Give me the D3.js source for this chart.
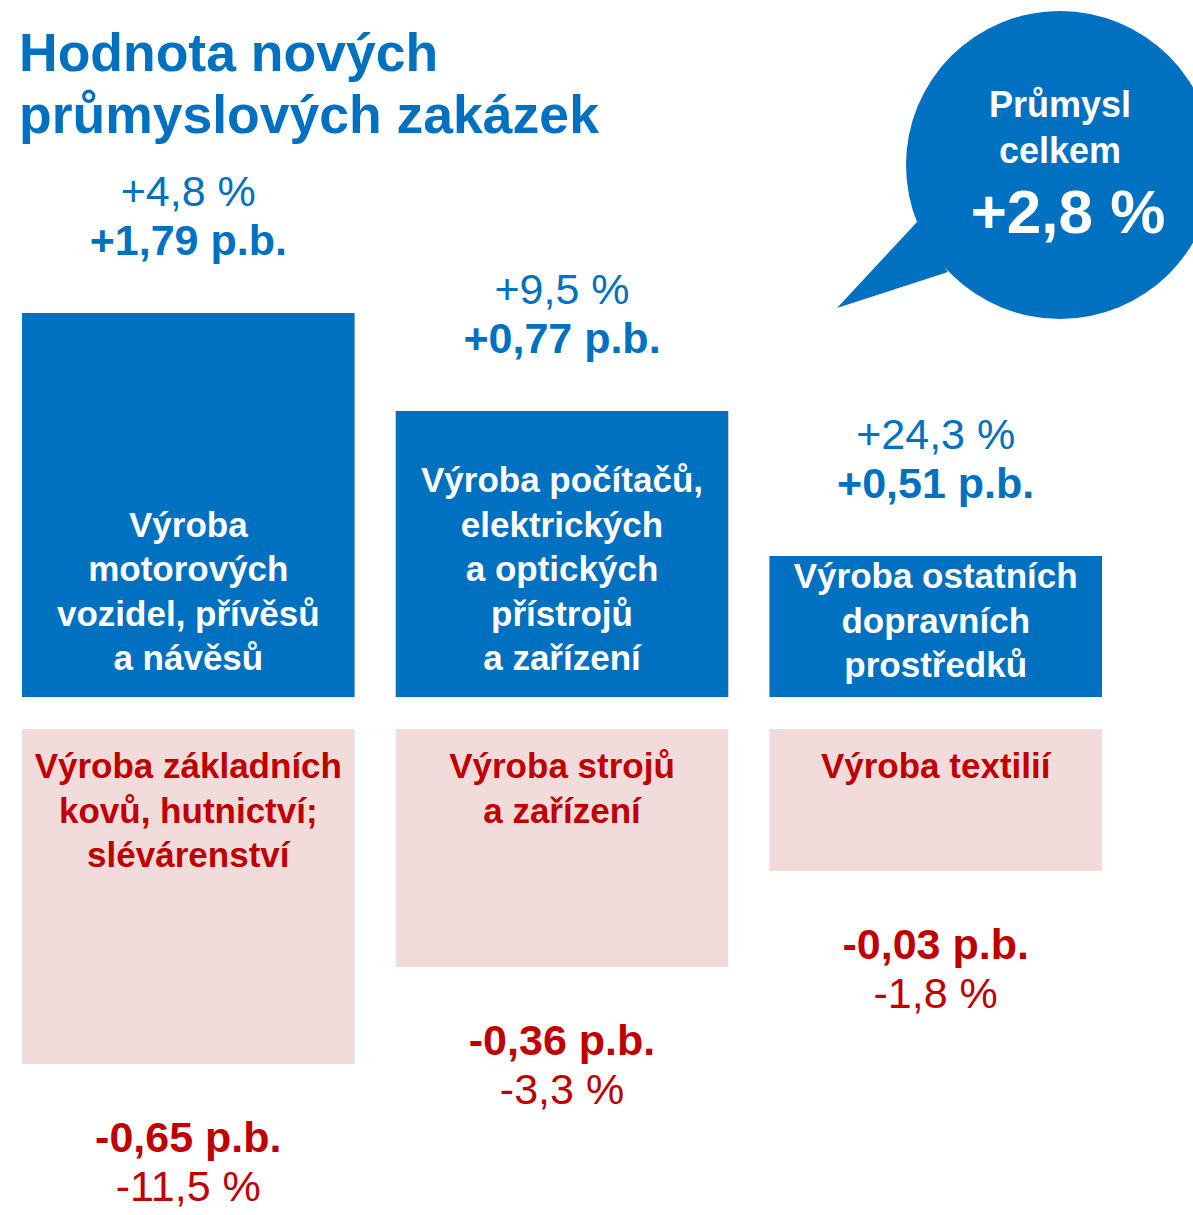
<!DOCTYPE html>
<html>
<head>
<meta charset="utf-8">
<script src="https://cdn.jsdelivr.net/npm/d3@7"></script>
<style>
    body { margin: 0; background: #fff; }
    svg { display: block; font-family: "Liberation Sans", Arial, sans-serif; }
</style>
</head>
<body>
<div id="chartContainer"></div>
<script>
// Branches with growth (contribution in p.b., growth in %)
const upNames = [
    ["Výroba", "motorových", "vozidel, přívěsů", "a návěsů"],
    ["Výroba počítačů,", "elektrických", "a optických", "přístrojů", "a zařízení"],
    ["Výroba ostatních", "dopravních", "prostředků"]
];
const upPb = [1.79, 0.77, 0.51];
const upPct = [4.8, 9.5, 24.3];

// Branches with decline
const downNames = [
    ["Výroba základních", "kovů, hutnictví;", "slévárenství"],
    ["Výroba strojů", "a zařízení"],
    ["Výroba textilií"]
];
const downPb = [-0.65, -0.36, -0.03];
const downPct = [-11.5, -3.3, -1.8];

const totalPct = 2.8;
const titleLines = ["Hodnota nových", "průmyslových zakázek"];
const bubbleLines = ["Průmysl", "celkem"];

function init() {
    const w = 1193, h = 1215;
    const blue = "#0070c0", red = "#c00000", pink = "#f2dcdb";

    const cz = d3.formatLocale({ decimal: ",", thousands: " ", grouping: [3], currency: ["", " Kč"], minus: "-" });
    const fPb = cz.format("+.2f");
    const fPct = cz.format("+.1f");

    const svg = d3.select("#chartContainer").append("svg")
        .attr("width", w)
        .attr("height", h);

    // Columns
    const x = d3.scaleBand()
        .domain(d3.range(upPb.length))
        .range([22, 1102])
        .paddingInner(0.11)
        .paddingOuter(0);

    // The infographic uses stepped (not proportional) heights, so the scales are piecewise
    const yUp = d3.scaleLinear()
        .domain([0].concat(upPb.slice().sort(d3.ascending)))
        .range([697, 556, 411, 313]);
    const downTop = 729;
    const yDown = d3.scaleLinear()
        .domain(downPb.map(Math.abs).sort(d3.ascending))
        .range([871, 967, 1064]);

    const lh = 44.5;

    // Title
    svg.append("g").selectAll("text")
        .data(titleLines)
        .join("text")
        .attr("x", 19)
        .attr("y", (d, i) => 71 + i * 62)
        .style("font-size", "53.5px")
        .style("font-weight", "bold")
        .style("fill", blue)
        .text(d => d);

    // Positive bars
    const up = svg.append("g").selectAll("g")
        .data(upPb.map((v, i) => ({ i, v, pct: upPct[i], names: upNames[i] })))
        .join("g");

    up.append("rect")
        .attr("x", d => x(d.i))
        .attr("width", x.bandwidth())
        .attr("y", d => yUp(d.v))
        .attr("height", d => yUp(0) - yUp(d.v))
        .style("fill", blue);

    up.append("text")
        .attr("x", d => x(d.i) + x.bandwidth() / 2)
        .attr("y", d => yUp(d.v) - 107)
        .attr("text-anchor", "middle")
        .style("font-size", "43px")
        .style("fill", blue)
        .text(d => fPct(d.pct) + " %");

    up.append("text")
        .attr("x", d => x(d.i) + x.bandwidth() / 2)
        .attr("y", d => yUp(d.v) - 58)
        .attr("text-anchor", "middle")
        .style("font-size", "43px")
        .style("font-weight", "bold")
        .style("fill", blue)
        .text(d => fPb(d.v) + " p.b.");

    // Bar names sit at the bottom of the bar, unless the bar is too short
    up.each(function(d) {
        const n = d.names.length;
        const top = yUp(d.v), bottom = yUp(0);
        const last = Math.max(bottom - 27, top + 32 + (n - 1) * lh);
        d3.select(this).append("g").selectAll("text")
            .data(d.names)
            .join("text")
            .attr("x", x(d.i) + x.bandwidth() / 2)
            .attr("y", (t, j) => last - (n - 1 - j) * lh)
            .attr("text-anchor", "middle")
            .style("font-size", "35px")
            .style("font-weight", "bold")
            .style("fill", "#fff")
            .text(t => t);
    });

    // Negative bars
    const down = svg.append("g").selectAll("g")
        .data(downPb.map((v, i) => ({ i, v, pct: downPct[i], names: downNames[i] })))
        .join("g");

    down.append("rect")
        .attr("x", d => x(d.i))
        .attr("width", x.bandwidth())
        .attr("y", downTop)
        .attr("height", d => yDown(Math.abs(d.v)) - downTop)
        .style("fill", pink);

    down.each(function(d) {
        d3.select(this).append("g").selectAll("text")
            .data(d.names)
            .join("text")
            .attr("x", x(d.i) + x.bandwidth() / 2)
            .attr("y", (t, j) => downTop + 49 + j * lh)
            .attr("text-anchor", "middle")
            .style("font-size", "35px")
            .style("font-weight", "bold")
            .style("fill", red)
            .text(t => t);
    });

    down.append("text")
        .attr("x", d => x(d.i) + x.bandwidth() / 2)
        .attr("y", d => yDown(Math.abs(d.v)) + 88)
        .attr("text-anchor", "middle")
        .style("font-size", "43px")
        .style("font-weight", "bold")
        .style("fill", red)
        .text(d => fPb(d.v) + " p.b.");

    down.append("text")
        .attr("x", d => x(d.i) + x.bandwidth() / 2)
        .attr("y", d => yDown(Math.abs(d.v)) + 137)
        .attr("text-anchor", "middle")
        .style("font-size", "43px")
        .style("fill", red)
        .text(d => fPct(d.pct) + " %");

    // Speech bubble with the total
    const bubble = svg.append("g");
    bubble.append("circle")
        .attr("cx", 1060)
        .attr("cy", 165)
        .attr("r", 154)
        .style("fill", blue);
    bubble.append("path")
        .attr("d", d3.line()([[917, 222], [837, 308], [948, 272]]) + "Z")
        .style("fill", blue);

    bubble.selectAll("text.lbl")
        .data(bubbleLines)
        .join("text")
        .attr("class", "lbl")
        .attr("x", 1060)
        .attr("y", (d, i) => 117 + i * 46)
        .attr("text-anchor", "middle")
        .style("font-size", "36px")
        .style("font-weight", "bold")
        .style("fill", "#fff")
        .text(d => d);

    bubble.append("text")
        .attr("x", 1068)
        .attr("y", 233)
        .attr("text-anchor", "middle")
        .style("font-size", "62px")
        .style("font-weight", "bold")
        .style("fill", "#fff")
        .text(fPct(totalPct) + " %");
}
window.onload = init;
</script>
</body>
</html>
